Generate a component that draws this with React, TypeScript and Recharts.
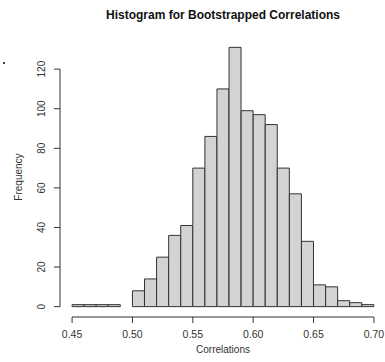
import { BarChart, Bar, XAxis, YAxis, ReferenceLine } from 'recharts';

// histogram breaks (bin width 0.01) and counts per bin
const breaks = [
    0.45, 0.46, 0.47, 0.48, 0.49, 0.5, 0.51, 0.52, 0.53, 0.54, 0.55, 0.56, 0.57,
    0.58, 0.59, 0.6, 0.61, 0.62, 0.63, 0.64, 0.65, 0.66, 0.67, 0.68, 0.69, 0.7,
];
const counts = [1, 1, 1, 1, 0, 8, 14, 25, 36, 41, 70, 86, 110, 131, 99, 97, 92, 70, 57, 33, 11, 10, 3, 2, 1];

const xTicks = [0.45, 0.5, 0.55, 0.6, 0.65, 0.7];
const yTicks = [0, 20, 40, 60, 80, 100, 120];

const data = counts.map((count, i) => ({
    mid: (breaks[i] + breaks[i + 1]) / 2,
    count,
}));

// R style 4% axis extension
const xMin = breaks[0] - 0.01;
const xMax = breaks[breaks.length - 1] + 0.01;
const yMax = Math.max(...counts);
const yPad = yMax * 0.04;

const FONT = '"Liberation Sans", Arial, sans-serif';

const YTick = ({ y, payload }: any) => (
    <text
        x={45}
        y={y}
        textAnchor="middle"
        transform={`rotate(-90, 45, ${y})`}
        fontSize={10}
        fontFamily={FONT}
        fill="#333"
    >
        {payload.value}
    </text>
);

const XTick = ({ x, y, payload }: any) => (
    <text x={x} y={y + 13} textAnchor="middle" fontSize={10.5} fontFamily={FONT} fill="#333">
        {payload.value.toFixed(2)}
    </text>
);

export default function App() {
    return (
        <div style={{ position: 'absolute', left: 0, top: 0, width: 385, height: 362, overflow: 'hidden', background: '#fff' }}>
            <div
                style={{
                    position: 'absolute',
                    left: 0,
                    width: 446,
                    top: 8,
                    textAlign: 'center',
                    fontFamily: FONT,
                    fontWeight: 'bold',
                    fontSize: 12,
                    color: '#111',
                }}
            >
                Histogram for Bootstrapped Correlations
            </div>
            <div
                style={{
                    position: 'absolute',
                    left: 3,
                    top: 62,
                    width: 2,
                    height: 2,
                    borderRadius: 1,
                    background: '#000',
                }}
            />
            <div
                style={{
                    position: 'absolute',
                    left: 18,
                    top: 177,
                    transform: 'translate(-50%, -50%) rotate(-90deg)',
                    fontFamily: FONT,
                    fontSize: 10,
                    color: '#333',
                    whiteSpace: 'nowrap',
                }}
            >
                Frequency
            </div>
            <div
                style={{
                    position: 'absolute',
                    left: 0,
                    width: 446,
                    top: 344,
                    textAlign: 'center',
                    fontFamily: FONT,
                    fontSize: 10,
                    color: '#333',
                }}
            >
                Correlations
            </div>
            <div style={{ position: 'absolute', left: 0, top: 0 }}>
                <BarChart
                    width={392}
                    height={362}
                    data={data}
                    margin={{ top: 37, right: 6, bottom: 0, left: 0 }}
                    barCategoryGap={0}
                    barGap={0}
                >
                    <XAxis
                        dataKey="mid"
                        type="number"
                        domain={[xMin, xMax]}
                        ticks={xTicks}
                        height={45}
                        axisLine={false}
                        tickLine={{ stroke: '#333' }}
                        tickSize={6}
                        tick={<XTick />}
                        interval={0}
                    />
                    <YAxis
                        type="number"
                        domain={[-yPad, yMax + yPad]}
                        ticks={yTicks}
                        width={60}
                        axisLine={false}
                        tickLine={{ stroke: '#333' }}
                        tickSize={6}
                        tick={<YTick />}
                        interval={0}
                    />
                    <Bar dataKey="count" fill="#D3D3D3" stroke="#333" strokeWidth={1} isAnimationActive={false} />
                    <ReferenceLine
                        segment={[{ x: xTicks[0], y: -yPad }, { x: xTicks[xTicks.length - 1], y: -yPad }]}
                        stroke="#333"
                        ifOverflow="visible"
                    />
                    <ReferenceLine
                        segment={[{ x: xMin, y: yTicks[0] }, { x: xMin, y: yTicks[yTicks.length - 1] }]}
                        stroke="#333"
                        ifOverflow="visible"
                    />
                </BarChart>
            </div>
        </div>
    );
}
